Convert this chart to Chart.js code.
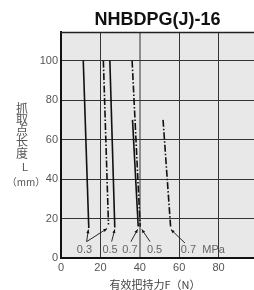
<!DOCTYPE html>
<html>
<head>
<meta charset="utf-8">
<script src="https://cdn.jsdelivr.net/npm/chart.js@4/dist/chart.umd.min.js"></script>
<style>
  html, body { margin: 0; padding: 0; background: #fff; overflow: hidden; }
  #wrap { width: 254px; height: 290px; overflow: hidden; }
</style>
</head>
<body>
<div id="wrap"><canvas id="chart" width="258" height="290"></canvas></div>
<script>
// Chart data
const xTicks = [0, 20, 40, 60, 80];
const yTicks = [0, 20, 40, 60, 80, 100];

// solid lines: 0.3 / 0.5 / 0.7 MPa
const solid03 = [{ x: 11.3, y: 100 }, { x: 14.1, y: 15.2 }];
const solid05 = [{ x: 24.8, y: 100 }, { x: 27.3, y: 15.5 }];
const solid07 = [{ x: 36.3, y: 70 }, { x: 39.2, y: 16 }];
// dash-dot lines: 0.3 / 0.5 / 0.7 MPa
const dash03 = [{ x: 21.5, y: 100 }, { x: 24.1, y: 17 }];
const dash05 = [{ x: 36.1, y: 100 }, { x: 40.2, y: 16 }];
const dash07 = [{ x: 51.8, y: 70 }, { x: 55.7, y: 15 }];

// pressure labels under the lines
const pressLabels = ['0.3', '0.5', '0.7', '0.5', '0.7  MPa'];
const pressLabelX = [11.9, 24.9, 35.0, 47.5, 72.0];
const pressLabelY = 4.1;

// arrows [fromX, fromY, toX, toY]
const arrows = [
    [13.0, 8.3, 13.9, 14.4],
    [13.0, 8.3, 23.4, 14.9],
    [25.7, 8.3, 27.3, 14.5],
    [35.5, 8.3, 38.9, 14.5],
    [45.2, 8.3, 41.0, 14.5],
    [62.9, 7.6, 55.8, 14.4]
];

const chartTitle = 'NHBDPG(J)-16';
const xTitle = '有效把持力F（N）';
const yTitleChars = ['抓', '取', '点', '长', '度'];

const LATIN = '"Liberation Sans", Arial, sans-serif';
const CJK = '"Noto Sans CJK SC", "Noto Sans", sans-serif';

// plot background, frame top line, titles
const framePlugin = {
    id: 'frame',
    beforeDraw(chart) {
        const { ctx, chartArea: a } = chart;
        ctx.save();
        ctx.fillStyle = '#e8e8e8';
        ctx.fillRect(a.left, a.top, a.right - a.left, a.bottom - a.top);
        ctx.restore();
    },
    afterDraw(chart) {
        const { ctx, chartArea: a } = chart;
        ctx.save();
        ctx.strokeStyle = '#222';
        ctx.lineWidth = 1.5;
        ctx.beginPath();
        ctx.moveTo(a.left - 1, a.top + 0.5);
        ctx.lineTo(a.right, a.top + 0.5);
        ctx.stroke();

        ctx.fillStyle = '#111';
        ctx.font = 'bold 18px ' + LATIN;
        ctx.textAlign = 'center';
        ctx.textBaseline = 'middle';
        ctx.fillText(chartTitle, 157.5, 20);

        ctx.fillStyle = '#444';
        ctx.font = '11px ' + CJK;
        ctx.fillText(xTitle, 155, 285);

        // vertical y-axis title, one character per row
        ctx.fillStyle = '#555';
        ctx.font = '12px ' + CJK;
        yTitleChars.forEach((c, i) => ctx.fillText(c, 22, 108 + i * 11.3));
        ctx.font = '11px ' + LATIN;
        ctx.fillText('L', 25, 168);
        ctx.font = '10px ' + CJK;
        ctx.fillText('（mm）', 26, 182);
        ctx.restore();
    }
};

// arrows and pressure labels, positioned through the scales
const notePlugin = {
    id: 'notes',
    afterDatasetsDraw(chart) {
        const { ctx } = chart;
        const xs = chart.scales.x, ys = chart.scales.y;
        ctx.save();
        ctx.strokeStyle = '#111';
        ctx.fillStyle = '#111';
        ctx.lineWidth = 0.9;
        arrows.forEach(([x0, y0, x1, y1]) => {
            const px0 = xs.getPixelForValue(x0), py0 = ys.getPixelForValue(y0);
            const px1 = xs.getPixelForValue(x1), py1 = ys.getPixelForValue(y1);
            const ang = Math.atan2(py1 - py0, px1 - px0);
            ctx.beginPath();
            ctx.moveTo(px0, py0);
            ctx.lineTo(px1, py1);
            ctx.stroke();
            ctx.beginPath();
            ctx.moveTo(px1, py1);
            ctx.lineTo(px1 - 4 * Math.cos(ang - 0.4), py1 - 4 * Math.sin(ang - 0.4));
            ctx.lineTo(px1 - 4 * Math.cos(ang + 0.4), py1 - 4 * Math.sin(ang + 0.4));
            ctx.closePath();
            ctx.fill();
        });
        ctx.fillStyle = '#666';
        ctx.font = '11px ' + LATIN;
        ctx.textAlign = 'center';
        ctx.textBaseline = 'middle';
        pressLabels.forEach((t, i) => {
            ctx.fillText(t, xs.getPixelForValue(pressLabelX[i]), ys.getPixelForValue(pressLabelY));
        });
        ctx.restore();
    }
};

function lineSet(data, dashed) {
    return {
        data: data,
        showLine: true,
        borderColor: '#111',
        borderWidth: 1.6,
        borderDash: dashed ? [7, 2, 1.5, 2] : [],
        pointRadius: 0,
        fill: false
    };
}

const chart = new Chart(document.getElementById('chart').getContext('2d'), {
    type: 'scatter',
    data: {
        datasets: [
            lineSet(solid03, false),
            lineSet(solid05, false),
            lineSet(solid07, false),
            lineSet(dash03, true),
            lineSet(dash05, true),
            lineSet(dash07, true)
        ]
    },
    options: {
        responsive: false,
        animation: false,
        layout: { padding: { top: 32, left: 0, right: 0, bottom: 0 } },
        plugins: {
            legend: { display: false },
            title: { display: false },
            tooltip: { enabled: false }
        },
        scales: {
            x: {
                type: 'linear',
                min: 0,
                max: 100,
                afterBuildTicks: scale => { scale.ticks = xTicks.map(v => ({ value: v })); },
                afterFit: scale => { scale.height = 32; scale.paddingLeft = 0; scale.paddingRight = 0; },
                ticks: { color: '#555', font: { size: 11, family: LATIN }, padding: 3, maxRotation: 0 },
                grid: {
                    drawTicks: false,
                    color: c => c.tick && c.tick.value === 40 ? '#8c8c8c' : '#333',
                    lineWidth: c => c.tick && c.tick.value === 40 ? 2 : 1
                },
                border: { color: '#111', width: 2 }
            },
            y: {
                type: 'linear',
                min: 0,
                max: 114.5,
                afterBuildTicks: scale => { scale.ticks = yTicks.map(v => ({ value: v })); },
                afterFit: scale => { scale.width = 61; scale.paddingTop = 0; scale.paddingBottom = 0; },
                ticks: { color: '#555', font: { size: 11, family: LATIN }, padding: 3 },
                grid: { drawTicks: false, color: '#333', lineWidth: 1 },
                border: { color: '#111', width: 2 }
            }
        }
    },
    plugins: [framePlugin, notePlugin]
});
</script>
</body>
</html>
